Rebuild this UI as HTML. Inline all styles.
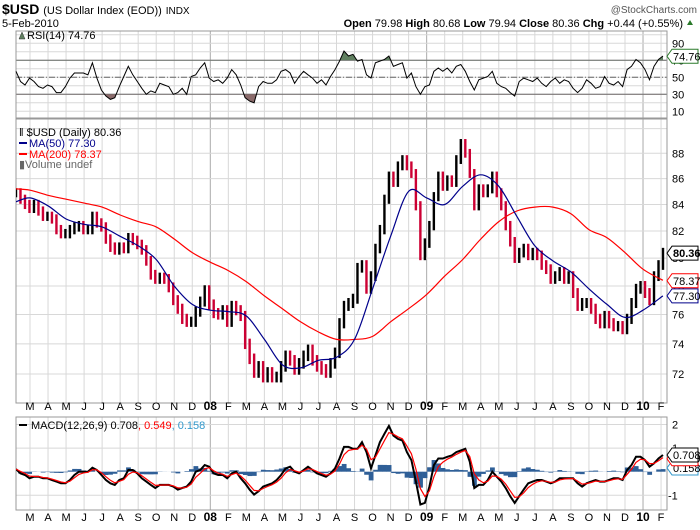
<!DOCTYPE html>
<html><head><meta charset="utf-8"><style>
html,body{margin:0;padding:0;background:#fff;}
svg{display:block;font-family:"Liberation Sans",Arial,sans-serif;}
</style></head><body>
<svg id="chart" width="700" height="530" viewBox="0 0 700 530" xmlns="http://www.w3.org/2000/svg">
<defs>
<clipPath id="cpRsi"><rect x="16" y="31" width="651" height="87"/></clipPath>
<clipPath id="cpPrice"><rect x="16" y="119" width="651" height="284"/></clipPath>
<clipPath id="cpMacd"><rect x="16" y="417" width="651" height="93"/></clipPath>
<clipPath id="cpAbove70"><rect x="16" y="31" width="651" height="29.3"/></clipPath>
<clipPath id="cpBelow30"><rect x="16" y="94.3" width="651" height="24"/></clipPath>
</defs>
<g>
<text x="2" y="14" font-size="14" font-weight="bold">$USD <tspan font-size="11" font-weight="normal">(US Dollar Index (EOD))</tspan> <tspan font-size="10" font-weight="normal">INDX</tspan></text>
<text x="697" y="13" font-size="10" fill="#555" text-anchor="end">@StockCharts.com</text>
<text x="2" y="27" font-size="11">5-Feb-2010</text>
<text x="683" y="27" font-size="11" text-anchor="end"><tspan font-weight="bold">Open</tspan> 79.98 <tspan font-weight="bold">High</tspan> 80.68 <tspan font-weight="bold">Low</tspan> 79.94 <tspan font-weight="bold">Close</tspan> 80.36 <tspan font-weight="bold">Chg</tspan> +0.44 (+0.55%)</text>
<path d="M687 25 l3 -5 l3 5 z" fill="#2a7a2a"/>
</g>
<g id="grid"></g>
<g id="rsi"></g>
<g id="price"></g>
<g id="macd"></g>
<g id="labels"></g>
</svg>
<script>
const closes=[84.9,84.4,84.0,83.7,84.0,83.5,83.1,83.1,82.9,82.1,81.8,81.8,82.1,82.3,82.4,82.1,82.1,83.1,82.6,82.3,81.4,80.8,80.6,80.8,80.7,81.5,81.3,81.0,80.6,79.8,78.8,78.5,78.6,78.5,77.9,77.0,76.4,75.7,75.5,75.5,76.2,76.9,77.7,76.7,76.1,76.0,76.3,75.5,76.6,76.3,
75.9,74.0,73.0,72.1,72.5,71.8,72.1,71.8,71.8,72.5,73.2,72.9,72.3,72.7,73.2,73.6,72.9,72.5,72.3,72.1,72.7,73.4,75.4,76.6,76.8,77.1,79.3,79.5,77.8,78.7,80.7,82.1,84.4,86.2,85.7,87.0,87.5,87.0,86.4,83.9,80.2,81.1,82.4,84.6,86.2,85.4,85.9,85.7,87.5,
88.8,88.0,86.4,83.9,85.2,84.9,85.2,86.2,84.9,83.9,82.4,81.2,80.0,80.4,80.7,80.2,80.4,80.2,79.5,79.2,78.5,78.7,79.0,78.5,78.7,77.5,76.6,76.8,76.8,76.4,75.7,75.4,75.9,75.4,75.2,75.2,75.0,75.7,76.8,77.8,78.0,77.5,77.0,78.7,79.5,80.4];
const rsiValues=[57,45,41,49,45,39,37,41,39,32,32,39,49,55,55,55,53,67,49,35,28,24,26,39,51,63,53,45,37,30,34,32,43,41,39,30,32,37,30,51,53,61,67,49,45,47,43,49,59,53,41,26,22,20,39,45,43,43,47,57,59,55,43,51,57,53,49,43,47,41,51,59,69,81,
75,77,69,71,53,49,67,69,71,75,63,65,67,49,55,39,30,39,41,57,61,57,61,55,63,65,57,45,35,47,49,51,57,43,39,37,32,28,45,49,47,45,49,43,39,45,49,43,47,45,37,32,37,47,43,37,39,51,43,41,45,39,59,63,71,67,59,47,63,71,75];
const macdValues=[0.11,-0.07,-0.14,-0.28,-0.21,-0.21,-0.28,-0.28,-0.35,-0.42,-0.49,-0.49,-0.35,-0.14,0,0,0,0.17,0.07,-0.14,-0.35,-0.49,-0.56,-0.35,-0.28,0.07,0.07,-0.07,-0.28,-0.42,-0.56,-0.69,-0.56,-0.56,-0.56,-0.63,-0.76,-0.69,-0.63,-0.42,0,0.07,0.28,0.21,-0.07,-0.14,-0.14,-0.28,-0.07,0,-0.28,-0.49,-0.76,-0.97,-0.83,-0.63,-0.56,-0.49,-0.35,-0.14,0.14,0.21,0,-0.07,0.07,0.21,0.07,-0.07,-0.14,-0.21,-0.07,0.14,0.56,1.05,
1.05,0.97,0.97,1.25,0.83,0.14,0.69,1.25,1.6,1.94,1.53,1.39,1.32,0.83,0.49,-0.42,-1.39,-1.32,-0.63,0.28,0.56,0.56,0.63,0.69,0.83,0.9,0.97,0.42,-0.69,-0.56,-0.56,-0.35,0,-0.21,-0.42,-0.69,-1.04,-1.32,-1.04,-0.76,-0.49,-0.42,-0.35,-0.35,-0.42,-0.49,-0.42,-0.28,-0.28,-0.28,-0.28,-0.49,-0.63,-0.49,-0.42,-0.35,-0.42,-0.42,-0.35,-0.28,-0.28,-0.35,0.07,0.28,0.63,0.63,0.49,0.21,0.35,0.56,0.708];
const maMonths=[1.22,2,3,4,5,6,7,8,9,10,11,12,13,14,15,16,17,18,19,20,21,22,23,24,25,26,27,28,29,30,31,32,33,34,35,36,37.1];
const ma50=[84.2,84.5,83.9,82.9,82.5,82.3,81.6,80.9,79.9,78.0,76.7,76.3,76.2,75.9,74.3,72.6,72.4,72.9,73.1,74.3,77.8,81.6,85.0,84.5,84.0,85.4,86.3,85.4,83.1,80.9,79.8,79.0,77.8,76.7,75.8,76.3,77.3];
const ma200=[85.2,85.1,84.7,84.4,84.1,83.8,83.2,82.7,82.3,81.4,80.4,79.7,79.1,78.3,77.3,76.4,75.5,74.8,74.3,74.3,74.5,75.5,76.4,77.4,78.7,79.9,81.4,82.7,83.5,83.8,83.8,83.3,82.1,81.5,80.4,79.2,78.4];
const monthLabels=['M','A','M','J','J','A','S','O','N','D','08','F','M','A','M','J','J','A','S','O','N','D','09','F','M','A','M','J','J','A','S','O','N','D','10','F'];
const priceTicks=[88,86,84,82,80,78,76,74,72];
const rsiTicks=[90,70,50,30,10];
const macdTicks=[2,1,0,-1];

const NS='http://www.w3.org/2000/svg';
const L=16,R=667;
const xw=i=>L+i*(R-4-L)/(closes.length-1);
const xm=t=>30+(t-2)*18.03;
const yP=v=>153.3+(Math.log(88)-Math.log(v))*1099.7;
const yR=v=>77.3-(v-50)*0.85;
const yM=v=>471.7-v*23.6;
function mk(tag,attrs,parent,text){const e=document.createElementNS(NS,tag);for(const k in attrs)e.setAttribute(k,attrs[k]);if(text!==undefined)e.textContent=text;parent.appendChild(e);return e;}
function smooth(pts){let d='M'+pts[0][0].toFixed(1)+' '+pts[0][1].toFixed(1);
  for(let i=0;i<pts.length-1;i++){const p0=pts[Math.max(0,i-1)],p1=pts[i],p2=pts[i+1],p3=pts[Math.min(pts.length-1,i+2)];
    const c1=[p1[0]+(p2[0]-p0[0])/6,p1[1]+(p2[1]-p0[1])/6],c2=[p2[0]-(p3[0]-p1[0])/6,p2[1]-(p3[1]-p1[1])/6];
    d+=' C'+c1[0].toFixed(1)+' '+c1[1].toFixed(1)+' '+c2[0].toFixed(1)+' '+c2[1].toFixed(1)+' '+p2[0].toFixed(1)+' '+p2[1].toFixed(1);}
  return d;}
const grid=document.getElementById('grid'),rsiG=document.getElementById('rsi'),priceG=document.getElementById('price'),macdG=document.getElementById('macd'),lab=document.getElementById('labels');
const panels=[[31,118],[119,403],[417,510]];
panels.forEach(p=>{
  monthLabels.forEach((m,k)=>{const x=xm(k+2);const yr=m.length==2;
    const ln=mk('line',{x1:x,x2:x,y1:p[0],y2:p[1],stroke:yr?'#aaa':'#d8d8d8','stroke-width':1},grid);
    
    });
});
for(let v=0;v<=100;v+=10){const y=yR(v);if(y<31||y>118)continue;const ln=mk('line',{x1:L,x2:R,y1:y,y2:y,stroke:'#d8d8d8'},grid);}
[70,30].forEach(v=>{const ln=mk('line',{x1:L,x2:R,y1:yR(v),y2:yR(v),stroke:'#666'},grid);});
{const ln=mk('line',{x1:L,x2:R,y1:yR(50),y2:yR(50),stroke:'#666','stroke-dasharray':'6,2,1,2'},grid);}
[90].concat(priceTicks).forEach(v=>{const ln=mk('line',{x1:L,x2:R,y1:yP(v),y2:yP(v),stroke:'#d8d8d8'},grid);});
[2,1,-1].forEach(v=>{const ln=mk('line',{x1:L,x2:R,y1:yM(v),y2:yM(v),stroke:'#d8d8d8'},grid);});
panels.forEach(p=>{const r=mk('rect',{x:L,y:p[0],width:R-L,height:p[1]-p[0],fill:'none',stroke:'#999'},grid);});
{const pts=rsiValues.map((v,i)=>xw(i).toFixed(1)+','+yR(v).toFixed(1));
 const g1=mk('g',{'clip-path':'url(#cpAbove70)'},rsiG);
 const a=mk('polygon',{points:xw(0)+','+yR(70)+' '+pts.join(' ')+' '+xw(rsiValues.length-1)+','+yR(70),fill:'#5f7f5f'},g1);
 
 const g2=mk('g',{'clip-path':'url(#cpBelow30)'},rsiG);
 const b=mk('polygon',{points:xw(0)+','+yR(30)+' '+pts.join(' ')+' '+xw(rsiValues.length-1)+','+yR(30),fill:'#8a6a6a'},g2);
 
 const l=mk('polyline',{points:pts.join(' '),fill:'none',stroke:'#000','stroke-width':1},rsiG);
 }
{const g=mk('g',{'clip-path':'url(#cpPrice)'},priceG);
 closes.forEach((c,i)=>{const p=i?closes[i-1]:c;const hi=Math.max(p,c)+0.35,lo=Math.min(p,c)-0.35;
   const r=mk('rect',{x:xw(i)-1.2,y:yP(hi),width:2.4,height:yP(lo)-yP(hi),fill:c>=p?'#000':'#cc0033'},g);
   });
 const l2=mk('path',{d:smooth(ma200.map((v,i)=>[xm(maMonths[i]),yP(v)])),fill:'none',stroke:'#f00','stroke-width':1.2},g);
 
 const l1=mk('path',{d:smooth(ma50.map((v,i)=>[xm(maMonths[i]),yP(v)])),fill:'none',stroke:'#00008b','stroke-width':1.2},g);
 }
{const g=mk('g',{'clip-path':'url(#cpMacd)'},macdG);
 const sig=[];let s=macdValues[0];macdValues.forEach(v=>{s=s+0.55*(v-s);sig.push(s);});
 const w=(R-4-L)/(closes.length-1);
 macdValues.forEach((v,i)=>{const h=v-sig[i];const y0=yM(0),y1=yM(h);
   const r=mk('rect',{x:xw(i)-w/2,y:Math.min(y0,y1),width:w+0.3,height:Math.abs(y1-y0),fill:'#2f5f97'},g);
   });
 const lm=mk('polyline',{points:macdValues.map((v,i)=>xw(i).toFixed(1)+','+yM(v).toFixed(1)).join(' '),fill:'none',stroke:'#000','stroke-width':2},g);
 
 const ls=mk('polyline',{points:sig.map((v,i)=>xw(i).toFixed(1)+','+yM(v).toFixed(1)).join(' '),fill:'none',stroke:'#f00','stroke-width':1.2},g);
 }
priceTicks.forEach(v=>{const t=mk('text',{x:672,y:yP(v)+4,'font-size':11},lab,String(v));});
rsiTicks.forEach(v=>{const t=mk('text',{x:672,y:yR(v)+4,'font-size':11},lab,String(v));});
macdTicks.forEach(v=>{const t=mk('text',{x:v<0?668:672,y:yM(v)+4,'font-size':11},lab,String(v));});
[410,521].forEach(y=>monthLabels.forEach((m,k)=>{const yr=m.length==2;const t=mk('text',{x:xm(k+2),y:y,'font-size':yr?12:11,'font-weight':yr?'bold':'normal','text-anchor':'middle'},lab,m);}));
function tag(y,txt,col,bold,name){const g=mk('g',{},lab);
  mk('path',{d:`M667 ${y} l5 -7 h26 v14 h-26 z`,fill:'#fff',stroke:col},g);
  mk('text',{x:673,y:y+4,'font-size':11,'font-weight':bold?'bold':'normal'},g,txt);}
tag(yM(0.158),'0.158','#3399cc',false,'macd-hist-tag');
tag(yM(0.549),'0.549','#f00',false,'signal-tag');
tag(yM(0.708),'0.708','#000',false,'macd-tag');
tag(yP(77.30),'77.30','#00008b',false,'ma50-tag');
tag(yP(78.37),'78.37','#f00',false,'ma200-tag');
tag(yP(80.36),'80.36','#000',true,'price-tag');
tag(yR(74.76),'74.76','#2a7a2a',false,'rsi-tag');
function leg(x,y,txt,col,name){const t=mk('text',{x:x,y:y,'font-size':11,fill:col},lab,txt);return t;}
mk('path',{d:'M19 39 l3 -7 l3 7 z',fill:'#5f7f5f',stroke:'#333','stroke-width':0.5},lab);
leg(27,39,'RSI(14) 74.76','#000','rsi-legend');
leg(19,136,'ǁ $USD (Daily) 80.36','#000','price-legend');
mk('rect',{x:19,y:142,width:8,height:2,fill:'#00008b'},lab);
leg(29,147,'MA(50) 77.30','#00008b','ma50-legend');
mk('rect',{x:19,y:153,width:8,height:2,fill:'#f00'},lab);
leg(29,158,'MA(200) 78.37','#f00','ma200-legend');
leg(19,168,'▮Volume undef','#666','volume-legend');
mk('rect',{x:19,y:424,width:8,height:2,fill:'#000'},lab);
const mt=leg(31,429,'MACD(12,26,9) 0.708','#000','macd-legend');
mk('tspan',{fill:'#f00'},mt,', 0.549');
mk('tspan',{fill:'#3399cc'},mt,', 0.158');
</script>
</body></html>
